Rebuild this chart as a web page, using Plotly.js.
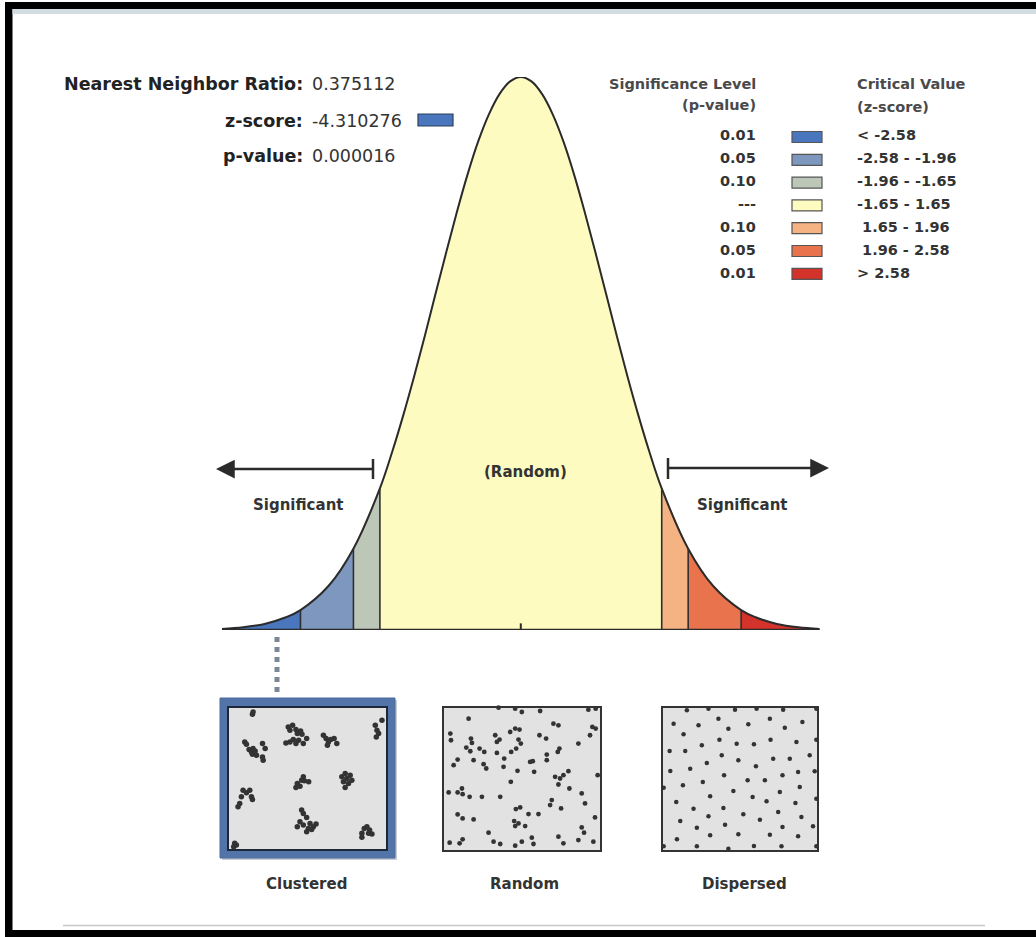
<!DOCTYPE html>
<html>
<head>
<meta charset="utf-8">
<script src="https://cdn.plot.ly/plotly-3.0.1.min.js"></script>
<style>html,body{margin:0;padding:0;background:#fff;}#chart{width:1036px;height:937px;}</style>
</head>
<body>
<div id="chart"></div>
<script>
// ---------- DATA ----------
// bell curve: z positions and relative heights (peak = 1)
const curveZ = [-3.5,-3.25,-3.0,-2.75,-2.58,-2.25,-1.96,-1.65,-1.5,-1.375,-1.25,-1.125,-1.0,-0.875,-0.75,-0.625,-0.5,-0.375,-0.25,-0.125,0,
                0.125,0.25,0.375,0.5,0.625,0.75,0.875,1.0,1.125,1.25,1.375,1.5,1.65,1.96,2.25,2.58,2.75,3.0,3.25,3.5];
const curveH = [0.002,0.005,0.011,0.023,0.036,0.080,0.147,0.256,0.325,0.389,0.458,0.531,0.607,0.682,0.755,0.823,0.883,0.932,0.969,0.992,1.0,
                0.992,0.969,0.932,0.883,0.823,0.755,0.682,0.607,0.531,0.458,0.389,0.325,0.256,0.147,0.080,0.036,0.023,0.011,0.005,0.002];
// critical value bin edges (z-score)
const binEdges = [-3.5,-2.58,-1.96,-1.65,1.65,1.96,2.58,3.5];
const binColors = ['#4a76bd','#7d97bf','#bcc7b7','#fdfbc0','#f5b282','#e9734c','#d4332b'];
// legend table
const pLevels = ['0.01','0.05','0.10','---','0.10','0.05','0.01'];
const zRanges = ['< -2.58','-2.58 - -1.96','-1.96 - -1.65','-1.65 - 1.65','\u00a01.65 - 1.96','\u00a01.96 - 2.58','> 2.58'];
// result statistics
const statLabels = ['Nearest Neighbor Ratio:','z-score:','p-value:'];
const statValues = ['0.375112','-4.310276','0.000016'];
// sample pattern panels
const panelNames = ['Clustered','Random','Dispersed'];
const clusteredPts = [[130,95],[128,102],
 [105,185],[110,192],[118,208],[125,215],[130,205],[128,222],[136,212],[158,190],[166,205],[158,230],[160,240],[140,225],
 [235,140],[240,150],[248,135],[258,148],[262,160],[272,152],[276,162],[240,185],[250,178],[258,190],[266,180],[280,190],[290,175],[228,188],
 [340,165],[348,175],[355,185],[362,178],[372,175],[380,190],[352,195],
 [495,135],[500,150],[505,160],[515,120],[498,170],
 [280,290],[275,300],[262,310],[270,318],[283,302],[296,305],[258,322],
 [395,290],[405,280],[410,295],[420,285],[415,310],[405,322],[400,305],[425,300],
 [100,330],[110,338],[120,330],[125,350],[95,350],[90,370],[85,380],[128,358],
 [275,390],[280,400],[290,412],[270,425],[280,435],[295,445],[300,430],[310,440],[318,432],[262,440],[290,455],[305,448],
 [455,460],[462,445],[470,440],[475,460],[485,462],[455,472],[478,450],
 [75,490],[72,500],[80,495]];
const randomPts = [[115,85],[205,52],[255,55],[275,65],[330,62],[475,58],[497,55],
 [60,130],[62,150],[122,145],[125,158],[108,172],[120,183],[148,175],[162,185],[195,135],[208,148],[200,155],
 [240,125],[255,115],[268,118],[265,148],[272,160],[258,175],[243,185],[200,188],[222,205],[220,230],[130,210],
 [82,208],[70,225],[160,222],[168,235],[328,135],[348,145],[370,100],[385,105],[445,160],[480,135],[487,110],[497,115],
 [388,175],[383,185],[350,193],[350,210],[300,215],[308,213],[312,245],[262,242],[242,275],[375,260],[390,265],
 [400,255],[415,243],[385,283],[418,295],[503,255],[55,307],[82,307],[95,295],[97,312],[118,320],[155,320],[210,320],
 [365,330],[360,345],[393,355],[455,310],[465,340],[257,357],[270,352],[295,372],[325,372],[82,373],[97,385],[130,388],
 [252,393],[265,400],[255,408],[285,408],[495,382],[455,412],[462,428],[175,428],[190,455],[210,462],[255,467],[275,455],
 [305,443],[310,462],[385,440],[400,460],[445,450],[490,455],[58,458],[88,460],[97,448]];
const dispersedPts = [[110,60],[175,55],[255,58],[320,55],[400,58],[500,55],
 [70,100],[145,105],[205,85],[235,115],[295,102],[360,85],[405,112],[458,95],
 [100,132],[58,182],[105,182],[155,165],[208,148],[260,160],[312,162],[362,148],[440,155],[500,148],
 [170,218],[215,195],[265,210],[318,228],[370,205],[420,205],[480,195],
 [60,242],[120,235],[222,255],[293,270],[345,270],[398,255],[445,245],[495,243],
 [98,285],[158,275],[40,292],[250,302],[180,318],[308,320],[350,333],[390,305],[450,290],[500,325],
 [78,335],[130,355],[220,353],[280,372],[330,388],[385,365],[437,338],
 [90,392],[175,378],[225,403],[140,412],[265,432],[180,435],[360,433],[398,410],[445,438],[490,408],[455,380],
 [80,447],[40,468],[140,468],[235,475],[312,467],[395,468],[500,468]];

// ---------- LAYOUT HELPERS ----------
const W = 1036, H = 937;
const X = p => p / W;
const Y = p => 1 - p / H;
const FONT = 'DejaVu Sans, Verdana, sans-serif';
const INK = '#2b2b2b';

const traces = [];
// fills for each critical-value bin
for (let i = 0; i < binColors.length; i++) {
  const xs = [], ys = [];
  curveZ.forEach((z, k) => { if (z >= binEdges[i] - 1e-9 && z <= binEdges[i + 1] + 1e-9) { xs.push(z); ys.push(curveH[k]); } });
  traces.push({x: xs, y: ys, type: 'scatter', mode: 'lines', fill: 'tozeroy', fillcolor: binColors[i],
    line: {shape: 'spline', width: 0, color: binColors[i]}, hoverinfo: 'skip', showlegend: false, xaxis: 'x', yaxis: 'y'});
}
// curve outline
traces.push({x: curveZ, y: curveH, type: 'scatter', mode: 'lines', line: {shape: 'spline', width: 2, color: INK},
  hoverinfo: 'skip', showlegend: false, xaxis: 'x', yaxis: 'y'});
// pattern dots
[[clusteredPts, 'x2', 'y2', 5.5], [randomPts, 'x3', 'y3', 4.8], [dispersedPts, 'x4', 'y4', 4.5]].forEach(([pts, xa, ya, sz]) => {
  traces.push({x: pts.map(p => p[0]), y: pts.map(p => p[1]), type: 'scatter', mode: 'markers', cliponaxis: false,
    marker: {size: sz, color: '#333'}, hoverinfo: 'skip', showlegend: false, xaxis: xa, yaxis: ya});
});

const shapes = [];
// outer black frame and thin band
shapes.push({type: 'rect', xref: 'paper', yref: 'paper', x0: X(5), x1: X(1036), y0: Y(9), y1: Y(2), fillcolor: '#000', line: {width: 0}});
shapes.push({type: 'rect', xref: 'paper', yref: 'paper', x0: X(5), x1: X(12.5), y0: Y(937), y1: Y(2), fillcolor: '#000', line: {width: 0}});
shapes.push({type: 'rect', xref: 'paper', yref: 'paper', x0: X(5), x1: X(1036), y0: Y(937), y1: Y(930), fillcolor: '#000', line: {width: 0}});
shapes.push({type: 'rect', xref: 'paper', yref: 'paper', x0: X(12.5), x1: X(1036), y0: Y(14), y1: Y(9), fillcolor: '#d3dce1', line: {width: 0}});
// bottom rule
shapes.push({type: 'line', xref: 'paper', yref: 'paper', x0: X(63), x1: X(985), y0: Y(925.5), y1: Y(925.5), line: {color: '#c8c8c8', width: 1.5}});
// baseline
shapes.push({type: 'line', xref: 'x', yref: 'y', x0: binEdges[0], x1: binEdges[binEdges.length - 1], y0: 0, y1: 0, line: {color: INK, width: 2.5}});
shapes.push({type: 'line', xref: 'x', yref: 'y', x0: 0, x1: 0, y0: 0, y1: 0.012, line: {color: INK, width: 2}});
// vertical boundaries inside the curve
for (let i = 1; i < binEdges.length - 1; i++) {
  const k = curveZ.findIndex(z => Math.abs(z - binEdges[i]) < 1e-9);
  shapes.push({type: 'line', xref: 'x', yref: 'y', x0: binEdges[i], x1: binEdges[i], y0: 0, y1: curveH[k], line: {color: '#2f2f2f', width: 1.6}});
}
// arrows caps and shafts
shapes.push({type: 'line', xref: 'paper', yref: 'paper', x0: X(373), x1: X(373), y0: Y(479), y1: Y(459), line: {color: INK, width: 2.5}});
shapes.push({type: 'line', xref: 'paper', yref: 'paper', x0: X(668), x1: X(668), y0: Y(479), y1: Y(458), line: {color: INK, width: 2.5}});
shapes.push({type: 'line', xref: 'paper', yref: 'paper', x0: X(373), x1: X(228), y0: Y(469), y1: Y(469), line: {color: INK, width: 2.5}});
shapes.push({type: 'line', xref: 'paper', yref: 'paper', x0: X(668), x1: X(818), y0: Y(468), y1: Y(468), line: {color: INK, width: 2.5}});
// dotted connector
shapes.push({type: 'line', xref: 'paper', yref: 'paper', x0: X(277), x1: X(277), y0: Y(637), y1: Y(697), line: {color: '#7b8797', width: 5, dash: 'dot'}});
// pattern boxes
shapes.push({type: 'rect', xref: 'paper', yref: 'paper', x0: X(222), x1: X(397), y0: Y(860), y1: Y(700), fillcolor: '#c9ccd2', line: {width: 0}, layer: 'below'});
shapes.push({type: 'rect', xref: 'paper', yref: 'paper', x0: X(220), x1: X(395), y0: Y(858), y1: Y(698), fillcolor: '#5374a9', line: {color: '#4a6a9e', width: 1}, layer: 'below'});
shapes.push({type: 'rect', xref: 'paper', yref: 'paper', x0: X(228), x1: X(387), y0: Y(850), y1: Y(707), fillcolor: '#e2e2e2', line: {color: '#1d2738', width: 2}, layer: 'below'});
shapes.push({type: 'rect', xref: 'paper', yref: 'paper', x0: X(443), x1: X(601), y0: Y(851), y1: Y(707), fillcolor: '#e2e2e2', line: {color: '#333', width: 2}, layer: 'below'});
shapes.push({type: 'rect', xref: 'paper', yref: 'paper', x0: X(662), x1: X(818), y0: Y(851), y1: Y(707), fillcolor: '#e2e2e2', line: {color: '#333', width: 2}, layer: 'below'});
// z-score swatch
shapes.push({type: 'rect', xref: 'paper', yref: 'paper', x0: X(418), x1: X(453), y0: Y(126), y1: Y(114), fillcolor: binColors[0], line: {color: '#2c3e5c', width: 1.2}});
// legend swatches
pLevels.forEach((p, i) => {
  const cy = 137 + 22.8 * i;
  shapes.push({type: 'rect', xref: 'paper', yref: 'paper', x0: X(792), x1: X(822), y0: Y(cy + 5.5), y1: Y(cy - 5.5),
    fillcolor: binColors[i], line: {color: '#555', width: 1.2}});
});

const annotations = [];
function txt(text, x, y, size, anchor, opts = {}) {
  annotations.push(Object.assign({text: text, xref: 'paper', yref: 'paper', x: X(x), y: Y(y), xanchor: anchor, yanchor: 'middle',
    showarrow: false, font: {family: FONT, size: size, color: opts.color || INK}}, opts.extra || {}));
}
// statistics
const statY = [84, 121, 156];
statLabels.forEach((l, i) => {
  txt('<b>' + l + '</b>', 305, statY[i], 17.5, 'right', {color: '#222'});
  txt(statValues[i], 310, statY[i], 17.5, 'left', {color: '#333'});
});
// legend headers
txt('<b>Significance Level</b>', 758, 84, 14.5, 'right', {color: '#4a4a4a'});
txt('<b>(p-value)</b>', 758, 105, 14.5, 'right', {color: '#4a4a4a'});
txt('<b>Critical Value</b>', 855, 84, 14.5, 'left', {color: '#4a4a4a'});
txt('<b>(z-score)</b>', 855, 107, 14.5, 'left', {color: '#4a4a4a'});
pLevels.forEach((p, i) => {
  const cy = 135 + 23 * i;
  txt('<b>' + p + '</b>', 758, cy, 14.5, 'right', {color: '#333'});
  txt('<b>' + zRanges[i] + '</b>', 855, cy, 14.5, 'left', {color: '#333'});
});
// curve labels
txt('<b>(Random)</b>', 525, 472, 15, 'center', {color: '#333'});
txt('<b>Significant</b>', 298, 505, 15, 'center', {color: '#333'});
txt('<b>Significant</b>', 742, 505, 15, 'center', {color: '#333'});
// panel labels
const panelX = [306, 524, 744];
panelNames.forEach((n, i) => txt('<b>' + n + '</b>', panelX[i], 884, 15, 'center', {color: '#333'}));
// arrowheads
annotations.push({text: '', xref: 'paper', yref: 'paper', x: X(216), y: Y(469), ax: 20, ay: 0, showarrow: true,
  arrowhead: 2, arrowsize: 1.5, arrowwidth: 2.5, arrowcolor: INK, standoff: 0});
annotations.push({text: '', xref: 'paper', yref: 'paper', x: X(829), y: Y(468), ax: -20, ay: 0, showarrow: true,
  arrowhead: 2, arrowsize: 1.5, arrowwidth: 2.5, arrowcolor: INK, standoff: 0});

const hidden = {visible: false, fixedrange: true, showgrid: false, zeroline: false};
const layout = {
  width: W, height: H, margin: {l: 0, r: 0, t: 0, b: 0, pad: 0},
  paper_bgcolor: '#fff', plot_bgcolor: 'rgba(0,0,0,0)', showlegend: false,
  xaxis: Object.assign({domain: [X(221.9), X(819.7)], range: [binEdges[0], binEdges[binEdges.length - 1]], anchor: 'y'}, hidden),
  yaxis: Object.assign({domain: [Y(630), Y(77)], range: [0, 1], anchor: 'x'}, hidden),
  xaxis2: Object.assign({domain: [X(228), X(387)], range: [55, 530], anchor: 'y2'}, hidden),
  yaxis2: Object.assign({domain: [Y(850), Y(707)], range: [510, 80], anchor: 'x2'}, hidden),
  xaxis3: Object.assign({domain: [X(443), X(601)], range: [38, 513], anchor: 'y3'}, hidden),
  yaxis3: Object.assign({domain: [Y(851), Y(707)], range: [483, 50], anchor: 'x3'}, hidden),
  xaxis4: Object.assign({domain: [X(662), X(818)], range: [35, 505], anchor: 'y4'}, hidden),
  yaxis4: Object.assign({domain: [Y(851), Y(707)], range: [482, 50], anchor: 'x4'}, hidden),
  shapes: shapes, annotations: annotations
};
Plotly.newPlot('chart', traces, layout, {displayModeBar: false, staticPlot: true});
</script>
</body>
</html>
